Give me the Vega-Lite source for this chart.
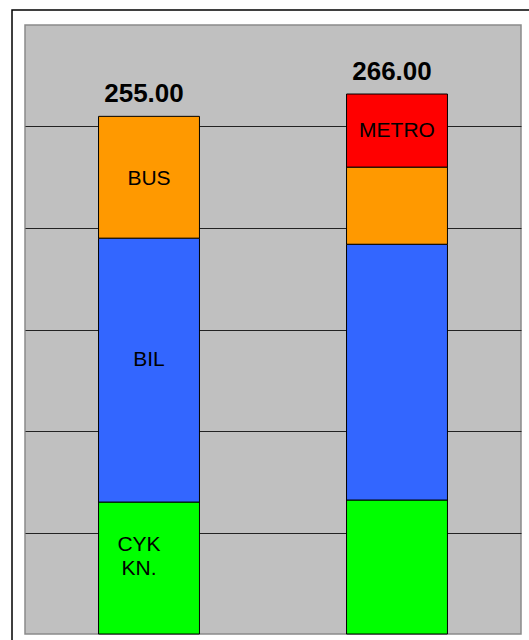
{
  "$schema": "https://vega.github.io/schema/vega-lite/v6.json",
  "width": 496,
  "height": 609,
  "autosize": {"type": "none"},
  "padding": {"left": 25, "top": 25, "right": 8, "bottom": 6},
  "background": "white",
  "config": {
    "view": {"fill": "#c0c0c0", "stroke": "#8a8a8a", "strokeWidth": 1.5},
    "font": "Liberation Sans"
  },
  "datasets": {
    "modes": [
      {"group": "1", "mode": "CYK KN.", "label": "CYK\nKN.", "value": 65, "order": 1},
      {"group": "1", "mode": "BIL", "label": "BIL", "value": 130, "order": 2},
      {"group": "1", "mode": "BUS", "label": "BUS", "value": 60, "order": 3},
      {"group": "2", "mode": "CYK KN.", "label": "", "value": 66, "order": 1},
      {"group": "2", "mode": "BIL", "label": "", "value": 126, "order": 2},
      {"group": "2", "mode": "BUS", "label": "", "value": 38, "order": 3},
      {"group": "2", "mode": "METRO", "label": "METRO", "value": 36, "order": 4}
    ],
    "frame": [{"x": -0.0262, "x2": 1.2, "y": 307.4, "y2": -20}]
  },
  "layer": [
    {
      "data": {"name": "modes"},
      "encoding": {
        "x": {"field": "group", "type": "nominal", "axis": null,
              "scale": {"paddingInner": 0.593, "paddingOuter": 0.2965}}
      },
      "layer": [
        {
          "mark": {"type": "bar", "stroke": "black", "strokeWidth": 1},
          "encoding": {
            "y": {"field": "value", "type": "quantitative", "stack": "zero",
                  "scale": {"domain": [0, 300], "nice": false},
                  "axis": {"values": [50, 100, 150, 200, 250], "grid": true, "gridColor": "#222222", "gridWidth": 1,
                           "labels": false, "ticks": false, "domain": false, "title": null}},
            "order": {"field": "order", "type": "quantitative"},
            "color": {"field": "mode", "type": "nominal", "legend": null,
                      "scale": {"domain": ["CYK KN.", "BIL", "BUS", "METRO"],
                                "range": ["#00ff00", "#3366ff", "#ff9900", "#ff0000"]}}
          }
        },
        {
          "transform": [
            {"stack": "value", "groupby": ["group"], "sort": [{"field": "order"}], "as": ["y0", "y1"]},
            {"calculate": "(datum.y0 + datum.y1) / 2", "as": "mid"},
            {"filter": "datum.mode == 'METRO' && datum.label != ''"}
          ],
          "mark": {"type": "text", "fontSize": 21, "color": "black", "baseline": "middle"},
          "encoding": {
            "y": {"field": "mid", "type": "quantitative"},
            "text": {"field": "label"}
          }
        },
        {
          "transform": [
            {"stack": "value", "groupby": ["group"], "sort": [{"field": "order"}], "as": ["y0", "y1"]},
            {"calculate": "(datum.y0 + datum.y1) / 2", "as": "mid"},
            {"filter": "datum.mode == 'BUS' && datum.label != ''"}
          ],
          "mark": {"type": "text", "fontSize": 21, "color": "black", "baseline": "middle", "dy": 2},
          "encoding": {
            "y": {"field": "mid", "type": "quantitative"},
            "text": {"field": "label"}
          }
        },
        {
          "transform": [
            {"stack": "value", "groupby": ["group"], "sort": [{"field": "order"}], "as": ["y0", "y1"]},
            {"calculate": "(datum.y0 + datum.y1) / 2", "as": "mid"},
            {"filter": "datum.mode == 'BIL' && datum.label != ''"}
          ],
          "mark": {"type": "text", "fontSize": 21, "color": "black", "baseline": "middle", "dy": -10},
          "encoding": {
            "y": {"field": "mid", "type": "quantitative"},
            "text": {"field": "label"}
          }
        },
        {
          "transform": [
            {"stack": "value", "groupby": ["group"], "sort": [{"field": "order"}], "as": ["y0", "y1"]},
            {"calculate": "(datum.y0 + datum.y1) / 2", "as": "mid"},
            {"filter": "datum.mode == 'CYK KN.' && datum.label != ''"}
          ],
          "mark": {"type": "text", "fontSize": 21, "color": "black", "baseline": "middle", "lineBreak": "\n", "lineHeight": 24, "dy": -23.5, "dx": -10},
          "encoding": {
            "y": {"field": "mid", "type": "quantitative"},
            "text": {"field": "label"}
          }
        },
        {
          "transform": [{"aggregate": [{"op": "sum", "field": "value", "as": "total"}], "groupby": ["group"]}],
          "mark": {"type": "text", "fontSize": 26, "fontWeight": "bold", "color": "black", "baseline": "alphabetic", "dy": -14, "dx": -5},
          "encoding": {
            "y": {"field": "total", "type": "quantitative"},
            "text": {"field": "total", "type": "quantitative", "format": ".2f"}
          }
        }
      ]
    },
    {
      "data": {"name": "frame"},
      "mark": {"type": "rect", "fill": null, "fillOpacity": 0, "stroke": "black", "strokeWidth": 1.5, "clip": false},
      "encoding": {
        "x": {"field": "x", "type": "quantitative", "axis": null, "scale": {"domain": [0, 1], "nice": false, "zero": false}},
        "x2": {"field": "x2"},
        "y": {"field": "y", "type": "quantitative"},
        "y2": {"field": "y2"}
      }
    }
  ],
  "resolve": {"scale": {"x": "independent"}}
}
